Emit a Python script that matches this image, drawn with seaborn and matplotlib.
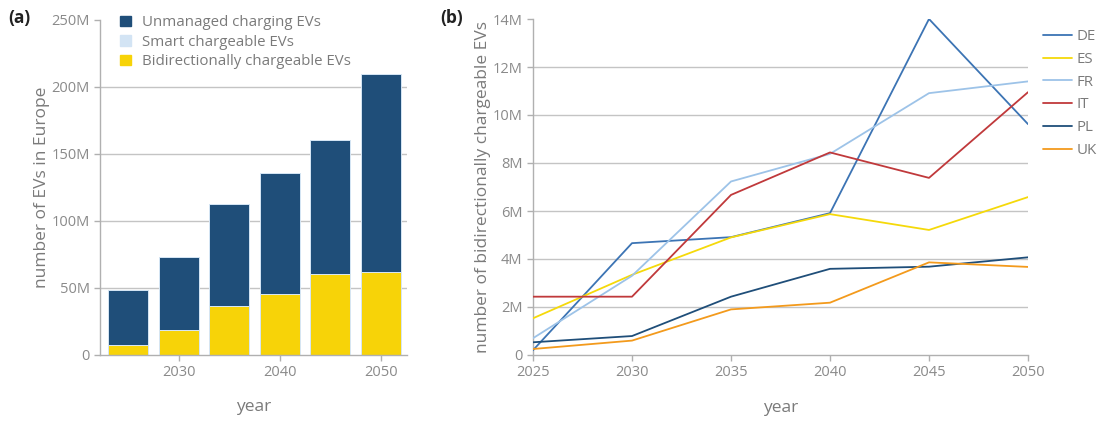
import matplotlib
matplotlib.use("Agg")
import matplotlib.pyplot as plt
import matplotlib.ticker as mticker
from matplotlib.patches import Patch
import numpy as np
import pandas as pd
import seaborn as sns

# ---- data -------------------------------------------------------------
years = [2025, 2030, 2035, 2040, 2045, 2050]

# Europe-wide EV fleet by charging type (millions)
unmanaged = [41.2, 54.7, 75.7, 90.1, 100.0, 147.5]
smart = [0.0, 0.0, 0.0, 0.0, 0.0, 0.0]
bidirectional = [6.9, 18.3, 36.4, 45.1, 60.1, 61.8]

# Bidirectionally chargeable EVs per country (millions)
countries = ["DE", "ES", "FR", "IT", "PL", "UK"]
de = [0.2, 4.66, 4.91, 5.91, 14.0, 9.62]
es = [1.53, 3.34, 4.90, 5.87, 5.21, 6.58]
fr = [0.70, 3.30, 7.23, 8.38, 10.91, 11.40]
it = [2.43, 2.43, 6.67, 8.44, 7.38, 10.95]
pl = [0.53, 0.79, 2.43, 3.59, 3.68, 4.07]
uk = [0.25, 0.60, 1.90, 2.18, 3.86, 3.67]

# ---- styling ----------------------------------------------------------
sns.set_theme(style="white")
plt.rcParams["font.family"] = ["Open Sans", "DejaVu Sans"]

GREY_TXT = "#8a8a8a"
GREY_LBL = "#7a7a7a"
GRID = "#c4c4c4"
SPINE = "#b0b0b0"

c_unmanaged = "#1f4e79"
c_smart = "#d3e4f4"
c_bidir = "#f7d308"
palette = {
    "DE": "#3c74b4",
    "ES": "#f5d90a",
    "FR": "#9dc3e8",
    "IT": "#c0393b",
    "PL": "#1f4e79",
    "UK": "#f39a1c",
}

fig = plt.figure(figsize=(10.97, 4.21), dpi=100)
W, H = 1097, 421
ax1 = fig.add_axes([100 / W, (H - 354.5) / H, 307 / W, 335 / H])
ax2 = fig.add_axes([533 / W, (H - 355) / H, 495 / W, 336 / H])

M = 1e6

# ---- (a) stacked bars ------------------------------------------------
fleet = pd.DataFrame({
    "year": years,
    "total": np.add(np.add(unmanaged, smart), bidirectional) * M,
    "managed": np.add(smart, bidirectional) * M,
    "bidir": np.array(bidirectional) * M,
})
for col, colr in [("total", c_unmanaged), ("managed", c_smart), ("bidir", c_bidir)]:
    sns.barplot(data=fleet, x="year", y=col, native_scale=True, color=colr,
                saturation=1, width=0.8, edgecolor="#d6e6f5", linewidth=0.7,
                ax=ax1, zorder=2)

ax1.set_xlim(2022.2, 2052.6)
ax1.set_ylim(0, 250 * M)
ax1.set_yticks(np.arange(0, 251, 50) * M)
ax1.set_xticks([2030, 2040, 2050])
ax1.yaxis.set_major_formatter(
    mticker.FuncFormatter(lambda v, p: "0" if v == 0 else f"{v / M:.0f}M"))
ax1.set_xlabel("year", fontsize=12.5, color=GREY_LBL, labelpad=14)
ax1.set_ylabel("number of EVs in Europe", fontsize=12.5, color=GREY_LBL, labelpad=1)

leg1 = ax1.legend(
    handles=[Patch(color=c_unmanaged, label="Unmanaged charging EVs"),
             Patch(color=c_smart, label="Smart chargeable EVs"),
             Patch(color=c_bidir, label="Bidirectionally chargeable EVs")],
    loc="upper left", bbox_to_anchor=(120 / W, 406 / H), bbox_transform=fig.transFigure,
    frameon=False, fontsize=10.8, handlelength=0.7, handleheight=0.7,
    handletextpad=0.75, labelspacing=0.3, borderpad=0, borderaxespad=0)
for t in leg1.get_texts():
    t.set_color(GREY_LBL)

# ---- (b) country lines -------------------------------------------------
per_country = pd.DataFrame({"year": years, "DE": de, "ES": es, "FR": fr,
                            "IT": it, "PL": pl, "UK": uk})
long = per_country.melt(id_vars="year", value_vars=countries,
                        var_name="country", value_name="evs")
long["evs"] = long["evs"] * M
sns.lineplot(data=long, x="year", y="evs", hue="country", hue_order=countries,
             palette=palette, linewidth=1.3, ax=ax2, zorder=3)

ax2.set_xlim(2025, 2050)
ax2.set_ylim(0, 14 * M)
ax2.set_xticks(years)
ax2.set_yticks(np.arange(0, 15, 2) * M)
ax2.yaxis.set_major_formatter(
    mticker.FuncFormatter(lambda v, p: "0" if v == 0 else f"{v / M:.0f}M"))
ax2.set_xlabel("year", fontsize=12.5, color=GREY_LBL, labelpad=14)
ax2.set_ylabel("number of bidirectionally chargeable EVs", fontsize=12.5,
               color=GREY_LBL, labelpad=1)

leg2 = ax2.legend(loc="upper left", bbox_to_anchor=(1043 / W, 392 / H),
                  bbox_transform=fig.transFigure, frameon=False, fontsize=10.8,
                  handlelength=1.9, handletextpad=0.35, labelspacing=0.52,
                  borderpad=0, borderaxespad=0)
for t in leg2.get_texts():
    t.set_color(GREY_LBL)

# ---- shared axis cosmetics --------------------------------------------
for ax in (ax1, ax2):
    ax.set_axisbelow(True)
    ax.yaxis.grid(True, color=GRID, linewidth=1.0)
    ax.xaxis.grid(False)
    for s in ("top", "right"):
        ax.spines[s].set_visible(False)
    for s in ("left", "bottom"):
        ax.spines[s].set_color(SPINE)
        ax.spines[s].set_linewidth(1.0)
    ax.tick_params(axis="both", colors=SPINE, labelcolor=GREY_TXT, labelsize=10.5,
                   length=4, width=1.0, left=True, bottom=True)
    # top tick sits on the axis edge: keep the tick, drop its grid line
    ax.yaxis.get_gridlines()[-1].set_visible(False)
    ax.yaxis.get_gridlines()[0].set_visible(False)

fig.text(8 / W, 1 - 18 / H, "(a)", fontsize=12.5, fontweight="bold",
         color="#222222", va="center")
fig.text(440 / W, 1 - 18 / H, "(b)", fontsize=12.5, fontweight="bold",
         color="#222222", va="center")

fig.savefig("out.png", dpi=100)
